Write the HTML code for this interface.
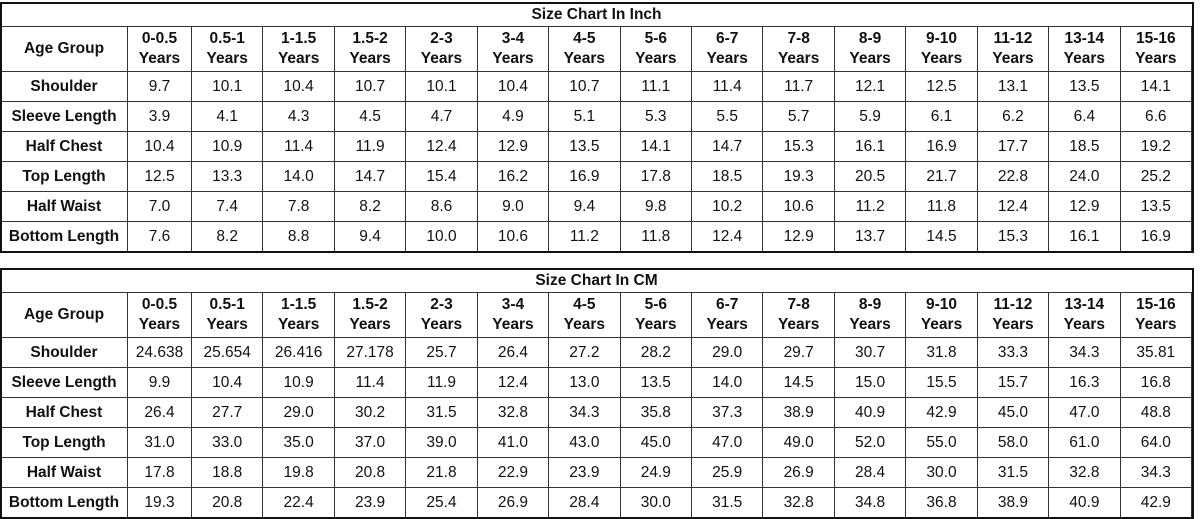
<!DOCTYPE html>
<html><head><meta charset="utf-8">
<style>
body{margin:0;width:1200px;height:519px;background:#fff;position:relative;overflow:hidden;font-family:"Liberation Sans",sans-serif;color:#111}
.c{position:absolute;box-sizing:border-box;display:flex;align-items:center;justify-content:center;text-align:center;font-size:15.5px;line-height:20px;border-right:1px solid #333;border-bottom:1px solid #333}
.b{font-weight:bold}
.frame{position:absolute;border:2px solid #111;box-sizing:border-box;pointer-events:none}
</style></head><body>
<div id="root"></div>
<script>
const ages=["0-0.5","0.5-1","1-1.5","1.5-2","2-3","3-4","4-5","5-6","6-7","7-8","8-9","9-10","11-12","13-14","15-16"];
const measures=["Shoulder","Sleeve Length","Half Chest","Top Length","Half Waist","Bottom Length"];
const inchVals=[
["9.7","10.1","10.4","10.7","10.1","10.4","10.7","11.1","11.4","11.7","12.1","12.5","13.1","13.5","14.1"],
["3.9","4.1","4.3","4.5","4.7","4.9","5.1","5.3","5.5","5.7","5.9","6.1","6.2","6.4","6.6"],
["10.4","10.9","11.4","11.9","12.4","12.9","13.5","14.1","14.7","15.3","16.1","16.9","17.7","18.5","19.2"],
["12.5","13.3","14.0","14.7","15.4","16.2","16.9","17.8","18.5","19.3","20.5","21.7","22.8","24.0","25.2"],
["7.0","7.4","7.8","8.2","8.6","9.0","9.4","9.8","10.2","10.6","11.2","11.8","12.4","12.9","13.5"],
["7.6","8.2","8.8","9.4","10.0","10.6","11.2","11.8","12.4","12.9","13.7","14.5","15.3","16.1","16.9"]];
const cmVals=[
["24.638","25.654","26.416","27.178","25.7","26.4","27.2","28.2","29.0","29.7","30.7","31.8","33.3","34.3","35.81"],
["9.9","10.4","10.9","11.4","11.9","12.4","13.0","13.5","14.0","14.5","15.0","15.5","15.7","16.3","16.8"],
["26.4","27.7","29.0","30.2","31.5","32.8","34.3","35.8","37.3","38.9","40.9","42.9","45.0","47.0","48.8"],
["31.0","33.0","35.0","37.0","39.0","41.0","43.0","45.0","47.0","49.0","52.0","55.0","58.0","61.0","64.0"],
["17.8","18.8","19.8","20.8","21.8","22.9","23.9","24.9","25.9","26.9","28.4","30.0","31.5","32.8","34.3"],
["19.3","20.8","22.4","23.9","25.4","26.9","28.4","30.0","31.5","32.8","34.8","36.8","38.9","40.9","42.9"]];
const root=document.getElementById('root');
const colX=[1,128,192];
for(let i=3;i<=16;i++)colX.push(192+(i-2)*71.43);
function cell(x,y,w,h,html,bold,name){
  const d=document.createElement('div');
  d.className='c'+(bold?' b':'');
  d.style.left=x+'px';d.style.top=y+'px';d.style.width=w+'px';d.style.height=h+'px';
  d.innerHTML=html;
  
  
  root.appendChild(d);
}
function table(top,title,vals,key){
  const x0=1,x1=1193;
  cell(x0,top,x1-x0,24,title,true,key+'-title');
  const hy=top+24,hh=45;
  cell(x0,hy,colX[1]-x0,hh,"Age Group",true,key+'-age-group-header');
  ages.forEach((a,i)=>cell(colX[i+1],hy,colX[i+2]-colX[i+1],hh,a+"<br>Years",true,key+'-age-'+a));
  measures.forEach((m,r)=>{
    const y=hy+hh+r*30;
    cell(x0,y,colX[1]-x0,30,m,true,key+'-row-label');
    vals[r].forEach((v,i)=>cell(colX[i+1],y,colX[i+2]-colX[i+1],30,v,false,key+'-value'));
  });
  const f=document.createElement('div');
  f.className='frame';
  f.style.left='0px';f.style.top=(top-1)+'px';f.style.width='1194px';f.style.height=(24+hh+180+2)+'px';
  
  
  root.appendChild(f);
}
table(3,"Size Chart In Inch",inchVals,'inch');
table(269,"Size Chart In CM",cmVals,'cm');
</script>
</body></html>
